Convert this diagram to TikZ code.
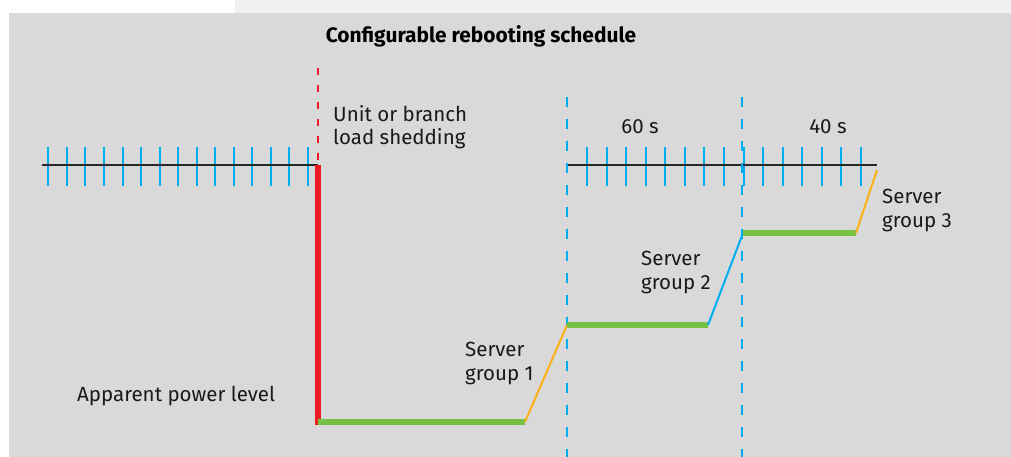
\documentclass[tikz,border=0pt]{standalone}
\usepackage{fontspec}
\setmainfont{Fira Sans}
\usetikzlibrary{positioning,calc}
\definecolor{panel}{HTML}{D9D9D9}
\definecolor{strip}{HTML}{F0F0F0}
\definecolor{shedred}{HTML}{ED1C24}
\definecolor{levelgreen}{HTML}{76C043}
\definecolor{tickblue}{HTML}{00AEEF}
\definecolor{rampamber}{HTML}{FBB017}
\tikzset{
  lbl/.style={anchor=base west, inner sep=0pt, font=\fontsize{20.5}{23.5}\selectfont, align=left, text=black!90},
  level/.style={levelgreen, line width=6pt},
  tickmark/.style={tickblue, line width=2pt},
  axis/.style={black!85, line width=1.6pt}
}
\begin{document}
\begin{tikzpicture}[x=1pt, y=-1pt]
\useasboundingbox (0,0) rectangle (1011,457);
\fill[white] (0,0) rectangle (1011,457);
\fill[strip] (235,0) rectangle (1011,13);
\fill[panel] (9,13) rectangle (1011,457);
\node[anchor=base, inner sep=0pt, font=\bfseries\fontsize{20.9}{24}\selectfont] (title) at (481,43) {Configurable rebooting schedule};
\foreach \k in {0,...,14} \draw[tickmark] ({48.3+\k*18.55},147) -- ({48.3+\k*18.55},186);
\foreach \k in {0,...,14} \draw[tickmark] ({587+\k*19.57},147) -- ({587+\k*19.57},186);
\coordinate (ax1a) at (42,165);
\coordinate (ax1b) at (318,165);
\coordinate (ax2a) at (568,165);
\coordinate (ax2b) at (877,165);
\draw[axis] (ax1a) -- (ax1b);
\draw[axis] (ax2a) -- (ax2b);
\coordinate (shtop) at (318,68);
\coordinate (p0) at (318,422);
\coordinate (p1) at (525,422);
\coordinate (p2) at (567,325);
\coordinate (p3) at (708,325);
\coordinate (p4) at (743,233);
\coordinate (p5) at (856,233);
\coordinate (p6) at (877,170);
\coordinate (d1a) at (567,97);
\coordinate (d1b) at (567,457);
\coordinate (d2a) at (742,97);
\coordinate (d2b) at (742,457);
\draw[tickblue, line width=2.6pt, dash pattern=on 10pt off 12pt] (d1a) -- (d1b);
\draw[tickblue, line width=2.6pt, dash pattern=on 10pt off 12pt] (d2a) -- (d2b);
\draw[shedred, line width=2.4pt, dash pattern=on 7pt off 10pt] (shtop) -- (ax1b);
\draw[shedred, line width=6pt] (ax1b) -- ($(p0)+(0,3)$);
\draw[level] (p0) -- (p1);
\draw[rampamber, line width=2pt] (p1) -- (p2);
\draw[level] (p2) -- (p3);
\draw[tickblue, line width=2pt] (p3) -- (p4);
\draw[level] (p4) -- (p5);
\draw[rampamber, line width=2pt] (p5) -- (p6);
\node[lbl] (shed) at (333,145) {Unit or branch\\load shedding};
\node[lbl, anchor=base] (t60) at (640,134) {60 s};
\node[lbl, anchor=base] (t40) at (828,134) {40 s};
\node[lbl] (grp1) at (465,380) {Server\\group 1};
\node[lbl] (grp2) at (641,289) {Server\\group 2};
\node[lbl] (grp3) at (882,227) {Server\\group 3};
\node[lbl] (apl) at (77,401) {Apparent power level};
\end{tikzpicture}
\end{document}
